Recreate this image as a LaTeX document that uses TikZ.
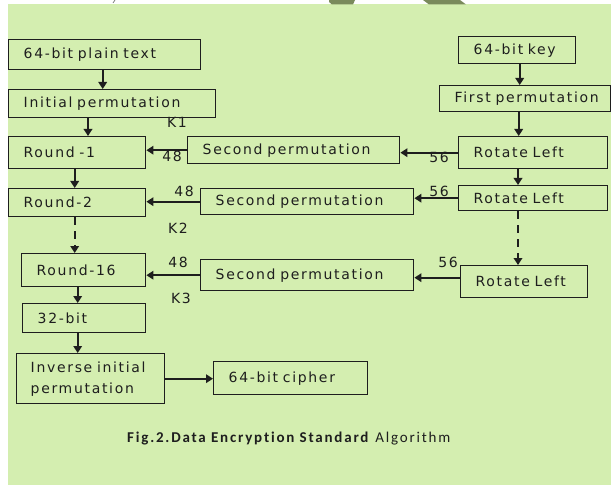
\documentclass[tikz,border=0pt]{standalone}
\usepackage{fontspec}
\setmainfont{DejaVu Sans}
\newfontfamily\boxfont{DejaVu Sans}[LetterSpace=12]
\newfontfamily\capfont{Carlito}[LetterSpace=12, Ligatures=NoCommon]
\usetikzlibrary{arrows.meta}
\definecolor{bg}{RGB}{212,238,176}
\definecolor{ink}{RGB}{30,30,30}
\definecolor{olive}{RGB}{122,138,92}
\begin{document}
\begin{tikzpicture}[x=1bp,y=-1bp,
  box/.style={draw=ink, line width=1.4bp, inner xsep=15bp, inner ysep=0bp,
    align=left, anchor=north west, text=ink,
    font=\boxfont\fontsize{14bp}{21bp}\selectfont},
  lbl/.style={text=ink, inner sep=0bp, font=\boxfont\fontsize{14bp}{14bp}\selectfont},
  arr/.style={draw=ink, line width=2.4bp, -{Triangle[width=8.5bp,length=7bp]}},
  harr/.style={arr, line width=2bp},
  darr/.style={arr, line width=2bp, dash pattern=on 8bp off 6bp},
]
% page and background
\fill[white] (0,0) rectangle (611,485);
\fill[bg] (8,4.5) rectangle (611,485);
\useasboundingbox (0,0) rectangle (611,485);
% marks along the upper edge
\fill[olive] (329,0) -- (355,0) -- (353,4.5) -- (332,4.5) -- (329,2) -- cycle;
\fill[olive] (423,0) -- (460,0) -- (466,4.5) -- (429,4.5) -- cycle;
\draw[gray, line width=0.8bp] (115,0) -- (113,3);

% data path (left column)
\node[box, text width=162bp, minimum height=30bp] (plain) at (8,39) {64-bit plain text};
\node[box, text width=177bp, minimum height=28bp] (init) at (8,89) {Initial permutation};
\node[box, text width=107bp, minimum height=32bp] (r1) at (8,136) {Round -1};
\node[box, text width=107bp, minimum height=28bp] (r2) at (8,188) {Round-2};
\node[box, text width=94bp, minimum height=33bp] (r16) at (21,253) {Round-16};
\node[box, text width=93bp, minimum height=29bp] (b32) at (22,303) {32-bit};
\node[box, text width=120bp, inner xsep=14bp, minimum height=50bp] (inv) at (16,353) {Inverse initial\\permutation};
\node[box, text width=124bp, minimum height=33bp] (cipher) at (213,361) {64-bit cipher};

% key schedule (right column)
\node[box, text width=87bp, minimum height=27bp] (kev) at (458,36) {64-bit key};
\node[box, text width=141bp, minimum height=26bp] (first) at (439,85) {First permutation};
\node[box, text width=119bp, minimum height=32bp] (rl1) at (458,136) {Rotate Left};
\node[box, text width=119bp, minimum height=25bp] (rl2) at (458,185) {Rotate Left};
\node[box, text width=97bp, minimum height=32bp] (rl3) at (460,265) {Rotate Left};

% round keys
\node[box, text width=182bp, minimum height=27bp] (sp1) at (187,136) {Second permutation};
\node[box, text width=183bp, minimum height=26bp] (sp2) at (200,188) {Second permutation};
\node[box, text width=183bp, minimum height=31bp] (sp3) at (200,259) {Second permutation};

% vertical links
\coordinate (a1) at ([xshift=-2bp]plain.south);
\draw[arr] (a1) -- (a1 |- init.north);
\coordinate (a2) at ([xshift=80bp]init.south west);
\draw[arr] (a2) -- (a2 |- r1.north);
\coordinate (a3) at ([xshift=-2.5bp]r1.south);
\draw[arr] (a3) -- (a3 |- r2.north);
\coordinate (a4) at ([xshift=-2.5bp]r2.south);
\draw[darr] (a4) -- (a4 |- r16.north);
\coordinate (a5) at ([xshift=-6bp]r16.south);
\draw[arr] (a5) -- (a5 |- b32.north);
\coordinate (a6) at ([xshift=-6.5bp]b32.south);
\draw[arr] (a6) -- (a6 |- inv.north);
\draw[harr] (inv.east) -- (inv.east -| cipher.west);

\coordinate (b1) at ([xshift=2.5bp]kev.south);
\draw[arr] (b1) -- (b1 |- first.north);
\coordinate (b2) at ([xshift=-6.5bp]first.south);
\draw[arr] (b2) -- (b2 |- rl1.north);
\coordinate (b3) at ([xshift=60bp]rl1.south west);
\draw[arr] (b3) -- (b3 |- rl2.north);
\coordinate (b4) at ([xshift=60bp]rl2.south west);
\draw[darr] (b4) -- (b4 |- rl3.north);

% horizontal links
\draw[harr] (rl1.west) -- (rl1.west -| sp1.east);
\draw[harr] (sp1.west) -- (sp1.west -| r1.east);
\draw[harr] (rl2.west) -- (rl2.west -| sp2.east);
\draw[harr] (sp2.west) -- (sp2.west -| r2.east);
\coordinate (c3) at ([yshift=4bp]rl3.west);
\draw[harr] (c3) -- (c3 -| sp3.east);
\draw[harr] (sp3.west) -- (sp3.west -| r16.east);

% labels
\node[lbl] (k1) at (177,122) {K1};
\node[lbl] (n48a) at (172,156) {48};
\node[lbl] (n56a) at (439,157) {56};
\node[lbl] (n48b) at (184,191) {48};
\node[lbl] (n56b) at (439,191) {56};
\node[lbl] (k2) at (178,228) {K2};
\node[lbl] (n48c) at (178,262) {48};
\node[lbl] (n56c) at (448,262) {56};
\node[lbl] (k3) at (181,298) {K3};

% caption
\node[anchor=west, inner sep=0bp, text=ink, font=\capfont\fontsize{15bp}{18bp}\selectfont]
  (cap) at (127,439) {\textbf{Fig.2.Data Encryption Standard} Algorithm};
\end{tikzpicture}
\end{document}
